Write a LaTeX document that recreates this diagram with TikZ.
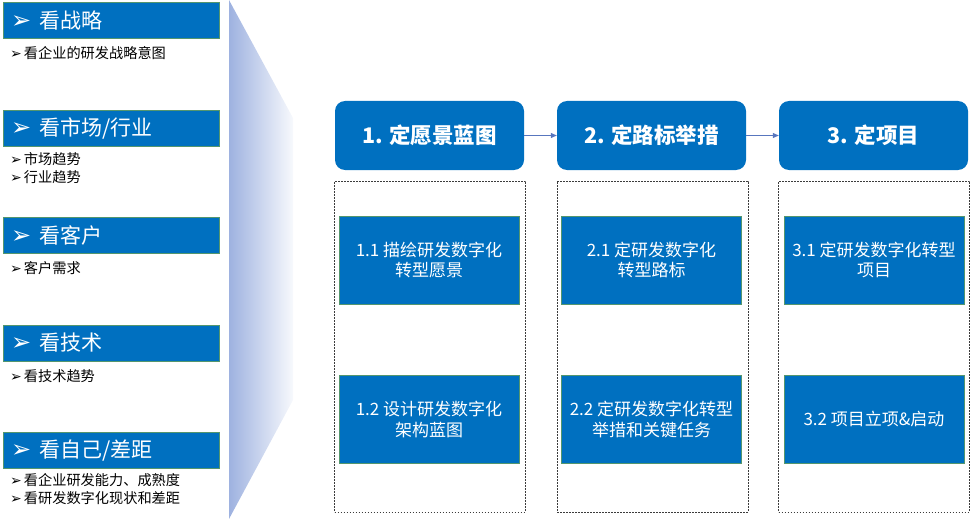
\documentclass[tikz,border=0pt]{standalone}
\usepackage{fontspec}
\setmainfont{Noto Sans CJK SC}
\newfontfamily\symfont{DejaVu Sans}
\usetikzlibrary{arrows.meta,positioning}
\definecolor{lensBlue}{RGB}{0,112,192}
\definecolor{lensEdge}{RGB}{84,150,110}
\definecolor{lensShade}{RGB}{158,178,224}
\definecolor{lensArrow}{RGB}{88,118,190}
\definecolor{lensGray}{RGB}{60,60,60}

\begin{document}
\begin{tikzpicture}[x=1pt,y=-1pt,
  viewbox/.style={fill=lensBlue, draw=lensEdge, line width=0.8pt, text=white, minimum height=36pt,
    text width=200pt, inner xsep=8pt, align=left, font=\fontsize{21}{24}\selectfont},
  viewitem/.style={anchor=west, align=left, inner sep=0pt, font=\fontsize{14.2}{18}\selectfont},
  stagebox/.style={fill=lensBlue, rounded corners=10pt, text=white, minimum width=189pt, minimum height=69pt,
    font=\fontsize{21.5}{24}\selectfont\bfseries},
  groupbox/.style={draw=lensGray, dash pattern=on 1.6pt off 1.4pt, line width=0.7pt, minimum width=191pt, minimum height=331pt},
  taskbox/.style={fill=lensBlue, draw=lensEdge, line width=0.8pt, text=white, minimum width=180pt, minimum height=88pt,
    align=center, font=\fontsize{17}{20.5}\selectfont},
  stepline/.style={-{Triangle[length=6pt,width=5pt]}, lensArrow, line width=0.7pt}]
\useasboundingbox (0,0) rectangle (970,519);

% funnel shading
\shade[left color=lensShade, right color=white!92!lensShade] (229,0) -- (293,118) -- (293,400) -- (229,519) -- cycle;

% left: what to look at
\node[viewbox] (strategy) at (111,20.5) {{\symfont\fontsize{24}{24}\selectfont ➢}\hspace{8pt}看战略};
\node[viewitem] (strategyA) at (10,53) {{\symfont\fontsize{14}{14}\selectfont ➢}\hspace{2pt}看企业的研发战略意图};
\node[viewbox] (market) at (111,128.5) {{\symfont\fontsize{24}{24}\selectfont ➢}\hspace{8pt}看市场/行业};
\node[viewitem] (marketA) at (10,168) {{\symfont\fontsize{14}{14}\selectfont ➢}\hspace{2pt}市场趋势\\{\symfont\fontsize{14}{14}\selectfont ➢}\hspace{2pt}行业趋势};
\node[viewbox] (client) at (111,235.5) {{\symfont\fontsize{24}{24}\selectfont ➢}\hspace{8pt}看客户};
\node[viewitem] (clientA) at (10,268) {{\symfont\fontsize{14}{14}\selectfont ➢}\hspace{2pt}客户需求};
\node[viewbox] (tech) at (111,343) {{\symfont\fontsize{24}{24}\selectfont ➢}\hspace{8pt}看技术};
\node[viewitem] (techA) at (10,376) {{\symfont\fontsize{14}{14}\selectfont ➢}\hspace{2pt}看技术趋势};
\node[viewbox] (self) at (111,450.5) {{\symfont\fontsize{24}{24}\selectfont ➢}\hspace{8pt}看自己/差距};
\node[viewitem] (selfA) at (10,489.5) {{\symfont\fontsize{14}{14}\selectfont ➢}\hspace{2pt}看企业研发能力、成熟度\\{\symfont\fontsize{14}{14}\selectfont ➢}\hspace{2pt}看研发数字化现状和差距};

% right: three stages
\node[stagebox] (vision) at (429.5,135.5) {1. 定愿景蓝图};
\node[stagebox] (road) at (651.5,135.5) {2. 定路标举措};
\node[stagebox] (project) at (873.5,135.5) {3. 定项目};
\draw[stepline] (vision) -- (road);
\draw[stepline] (road) -- (project);

\node[groupbox] (visionGrp) at (430,346.5) {};
\node[groupbox] (roadGrp) at (652.5,346.5) {};
\node[groupbox] (projectGrp) at (874,346.5) {};

\node[taskbox] (vision1) at (429,260) {1.1 描绘研发数字化\\转型愿景};
\node[taskbox] (vision2) at (429,419.5) {1.2 设计研发数字化\\架构蓝图};
\node[taskbox] (road1) at (651.5,260) {2.1 定研发数字化\\转型路标};
\node[taskbox] (road2) at (651.5,419.5) {2.2 定研发数字化转型\\举措和关键任务};
\node[taskbox] (project1) at (874,260) {3.1 定研发数字化转型\\项目};
\node[taskbox] (project2) at (874,419.5) {3.2 项目立项\&启动};
\end{tikzpicture}
\end{document}
